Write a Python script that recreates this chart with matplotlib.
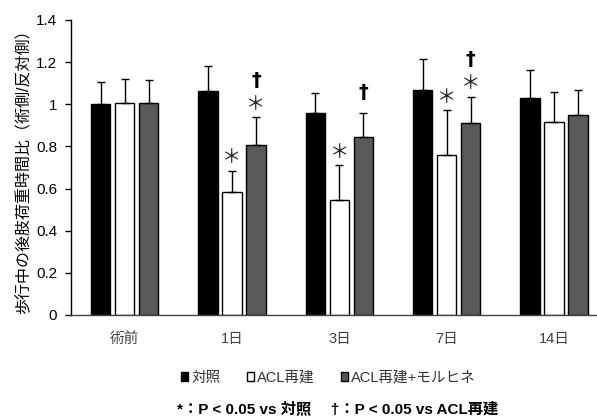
import numpy as np
import matplotlib
matplotlib.use("Agg")
import matplotlib.pyplot as plt
from matplotlib.patches import Patch

plt.rcParams['font.family'] = ['Liberation Sans', 'Noto Sans CJK JP', 'DejaVu Sans']

# data
days = ['術前', '1日', '3日', '7日', '14日']
groups = ['対照', 'ACL再建', 'ACL再建+モルヒネ']
control = [1.00, 1.065, 0.960, 1.069, 1.031]
control_sd = [0.107, 0.117, 0.092, 0.144, 0.130]
acl = [1.008, 0.584, 0.547, 0.758, 0.917]
acl_sd = [0.112, 0.101, 0.163, 0.213, 0.140]
morph = [1.005, 0.807, 0.846, 0.911, 0.948]
morph_sd = [0.109, 0.131, 0.114, 0.124, 0.120]
# significance marks per group/day
acl_marks = ['', '*', '*', '*', '']
morph_marks = ['', '*†', '†', '*†', '']

colors = ['black', 'white', '#595959']
means = [control, acl, morph]
sds = [control_sd, acl_sd, morph_sd]
marks = [[''] * 5, acl_marks, morph_marks]

fig = plt.figure(figsize=(5.97, 4.16), dpi=100)
ax = fig.add_axes([0.119, 0.243, 0.881, 0.709])

x = np.arange(len(days))
w = 0.18
off = 0.224
for i in range(3):
    xs = x + (i - 1) * off
    ax.bar(xs, means[i], w, color=colors[i], edgecolor='black', linewidth=1.0,
           yerr=[np.zeros(5), sds[i]], error_kw=dict(ecolor='black', elinewidth=1.0,
                                                      capsize=3, capthick=1.0))
    for j in range(5):
        top = means[i][j] + sds[i][j]
        m = marks[i][j]
        if '*' in m:
            ax.text(xs[j], top + 0.062, '＊', ha='center', va='center',
                    fontsize=14, family='Noto Sans CJK JP', color='#222222')
        if '†' in m:
            dy = 0.175 if '*' in m else 0.097
            ax.text(xs[j], top + dy, '†', ha='center', va='center',
                    fontsize=14, fontweight='bold', family='DejaVu Sans')

ax.set_xlim(-0.5, 4.4)
ax.set_ylim(0, 1.4)
ax.set_yticks(np.arange(0, 1.41, 0.2))
ax.set_yticklabels(['0', '0.2', '0.4', '0.6', '0.8', '1', '1.2', '1.4'])
ax.set_xticks(x)
ax.set_xticklabels(days, color='#404040')
ax.tick_params(axis='x', length=0, pad=12, labelsize=10.5)
ax.tick_params(axis='y', length=4, width=1, labelsize=11, pad=6, direction='out')
for s in ['top', 'right']:
    ax.spines[s].set_visible(False)
ax.spines['left'].set_linewidth(1.0)
ax.spines['bottom'].set_linewidth(1.0)
ax.spines['bottom'].set_color('#444444')
ax.set_ylabel('歩行中の後肢荷重時間比（術側/反対側）', fontsize=11.5, labelpad=3)

handles = [Patch(facecolor=c, edgecolor='black', linewidth=1.0) for c in colors]
fig.legend(handles, groups, loc='center', bbox_to_anchor=(0.55, 0.092), ncol=3,
           frameon=False, fontsize=10.5, handlelength=0.5, handleheight=0.5,
           handletextpad=0.2, columnspacing=1.8, labelcolor='#333333')
fig.text(0.566, 0.018, '*：P < 0.05 vs 対照　 †：P < 0.05 vs ACL再建', ha='center',
         va='center', fontsize=11, fontweight='bold')

fig.savefig('out.png', dpi=100)
